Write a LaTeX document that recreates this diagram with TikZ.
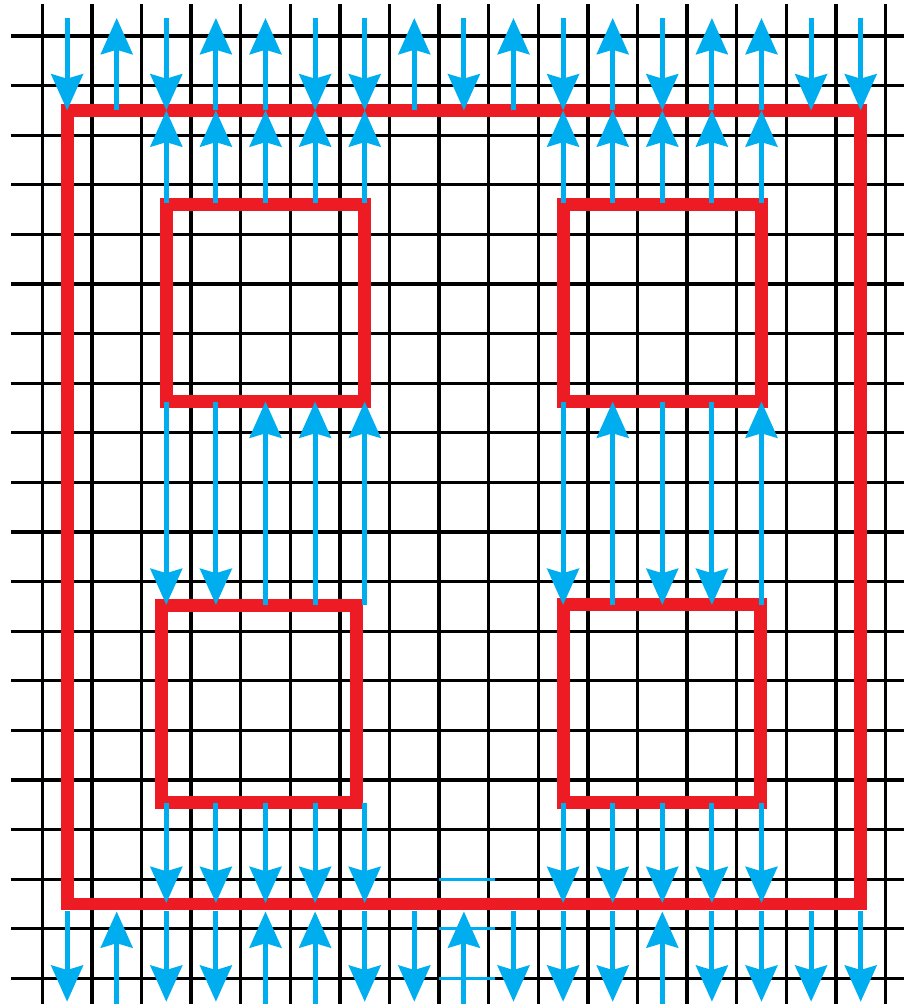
\documentclass[tikz,border=0pt]{standalone}
\usepackage{xcolor}
\usepackage{tikz}
\usetikzlibrary{arrows.meta}
\definecolor{loopred}{HTML}{ED1C24}
\definecolor{fluxblue}{HTML}{00AEEF}

\begin{document}
\begin{tikzpicture}[x=1cm, y=-1cm,
  gridline/.style={black, line width=1.9pt},
  loopline/.style={loopred, line width=7.4pt},
  flux/.style={-{Stealth[length=7.3mm, width=6.4mm, inset=0.9mm]}, fluxblue, line width=2.9pt}]
\useasboundingbox (-0.853,-0.726) rectangle (17.353,19.516);
% grid
\foreach \r in {0,...,19}
  \draw[gridline] (-0.63,\r) -- (17.45,\r);
\foreach \c in {0,...,17}
  \draw[gridline] (\c,-0.645) -- (\c,19.6);
\foreach \r in {17,18,19}
  \draw[fluxblue, line width=1.6pt] (8,\r) -- (9.13,\r);
% loops
\draw[loopline] (0.5,1.5) rectangle (16.5,17.5);
\draw[loopline] (2.5,3.39) rectangle (6.5,7.36);
\draw[loopline] (10.5,3.39) rectangle (14.5,7.36);
\draw[loopline] (2.4,11.49) rectangle (6.34,15.46);
\draw[loopline] (10.5,11.46) rectangle (14.48,15.45);
% top outer row
\foreach \c in {0.5,2.5,5.5,6.5,8.5,10.5,12.5,15.5,16.5}
  \draw[flux] (\c,-0.363) -- (\c,1.5);
\foreach \c in {1.5,3.5,4.5,7.5,9.5,11.5,13.5,14.5}
  \draw[flux] (\c,1.5) -- (\c,-0.363);
% between outer and upper boxes
\foreach \c in {2.5,3.5,4.5,5.5,6.5,10.5,11.5,12.5,13.5,14.5}
  \draw[flux] (\c,3.37) -- (\c,1.5);
% between upper and lower boxes
\foreach \c in {2.5,3.5,10.5,12.5,13.5}
  \draw[flux] (\c,7.37) -- (\c,11.47);
\foreach \c in {4.5,5.5,6.5,11.5,14.5}
  \draw[flux] (\c,11.47) -- (\c,7.37);
% between lower boxes and outer
\foreach \c in {2.5,3.5,4.5,5.5,6.5,10.5,11.5,12.5,13.5,14.5}
  \draw[flux] (\c,15.46) -- (\c,17.48);
% bottom outer row
\foreach \c in {0.5,2.5,3.5,6.5,7.5,9.5,10.5,11.5,13.5,14.5,15.5,16.5}
  \draw[flux] (\c,17.65) -- (\c,19.47);
\foreach \c in {1.5,4.5,5.5,8.5,12.5}
  \draw[flux] (\c,19.6) -- (\c,17.65);
\end{tikzpicture}
\end{document}
